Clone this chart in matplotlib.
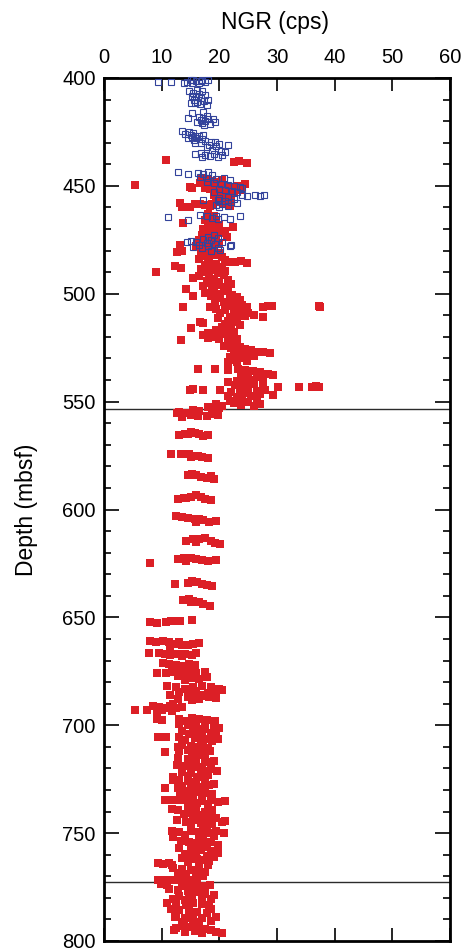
import matplotlib
matplotlib.use("Agg")
import matplotlib.pyplot as plt
from matplotlib.ticker import MultipleLocator

plt.rcParams['font.family'] = ['Liberation Sans', 'DejaVu Sans']

# ---------------- data (depth mbsf, NGR cps) ----------------
red_upper = [
    (437.8, 10.7), (438.8, 22.5), (438.6, 23.4), (439.2, 24.8), (449.6, 5.4),
    (446.5, 17.0), (447.2, 17.8), (447.8, 18.6), (448.0, 19.5), (447.5, 20.5),
    (448.8, 16.6), (449.5, 19.0), (449.8, 20.0), (450.2, 21.0), (450.5, 22.0), (450.0, 23.0),
    (450.5, 24.0), (449.2, 24.5), (450.4, 14.9), (450.9, 15.3), (451.0, 17.5), (451.5, 18.3),
    (452.0, 19.2), (452.5, 20.3), (452.8, 21.5), (453.3, 22.5), (452.0, 23.5),
    (454.0, 19.0), (454.5, 20.0), (455.0, 21.0), (455.5, 22.0), (456.0, 21.5), (456.8, 20.5),
    (457.5, 19.5), (458.2, 18.8), (458.6, 20.8), (459.3, 21.8), (458.0, 13.2), (459.6, 13.6),
    (460.0, 14.9), (458.2, 15.8), (458.5, 16.6), (458.8, 17.5), (459.5, 18.3),
    (463.0, 18.0), (464.0, 19.0), (465.0, 18.5), (466.0, 17.5), (466.5, 19.5), (467.3, 13.75),
    (467.5, 18.0), (468.0, 20.0), (469.0, 22.3), (469.3, 18.8), (470.0, 17.2), (470.5, 19.8),
    (471.0, 21.0), (471.5, 18.0), (472.0, 20.5), (472.5, 19.0), (473.5, 21.3), (473.0, 17.0),
    (474.0, 18.5), (475.0, 16.5), (475.5, 19.5), (476.0, 17.5), (476.5, 20.0), (477.4, 13.2),
    (477.0, 18.0), (478.0, 16.0), (478.5, 19.0), (479.0, 17.2), (480.0, 13.5), (480.8, 12.7),
    (480.5, 18.5), (481.0, 20.0), (481.5, 16.8), (482.0, 19.5), (482.5, 17.8), (483.0, 20.5),
    (483.5, 18.2), (484.0, 16.5), (484.5, 21.0), (485.0, 18.0), (485.2, 21.8), (485.5, 22.8),
    (485.0, 23.8), (485.6, 24.8), (486.0, 19.5), (486.5, 17.5), (487.0, 12.3), (488.0, 13.3),
    (487.5, 20.5), (488.0, 18.5), (488.5, 16.8), (489.0, 19.2), (489.8, 9.1), (489.5, 21.0),
    (490.0, 17.5), (490.5, 19.8), (491.0, 18.2), (491.5, 20.8), (492.0, 16.5), (492.5, 15.5),
    (493.0, 19.0), (493.5, 21.5), (494.0, 17.8), (494.5, 20.0), (495.0, 18.5), (495.5, 22.0),
    (496.0, 19.5), (496.5, 17.2), (497.0, 20.8), (497.5, 18.8), (498.0, 14.3), (498.5, 21.5),
    (499.0, 19.0), (499.5, 17.5), (500.0, 20.2), (500.5, 22.2), (501.0, 15.4), (501.2, 18.5),
    (501.6, 23.0), (502.0, 20.0), (502.5, 21.8), (503.0, 23.6), (503.5, 19.2), (504.0, 20.8),
    (504.5, 22.5), (505.0, 24.0), (505.5, 21.2), (506.0, 13.7), (506.0, 18.4), (505.8, 22.8),
    (506.2, 24.8), (506.0, 27.6), (505.8, 28.5), (505.5, 29.1), (505.5, 37.2), (506.3, 37.5),
]

red_mid = [
    (507.0, 19.5), (507.5, 21.0), (508.0, 22.5), (508.2, 24.0), (508.8, 25.0), (509.0, 20.2),
    (509.5, 23.2), (510.0, 26.0), (510.6, 27.6), (510.2, 24.5), (511.3, 19.8), (511.0, 21.8),
    (511.8, 23.0), (512.5, 21.5), (513.0, 16.6), (513.7, 17.2), (513.2, 22.8), (514.0, 21.0),
    (514.5, 23.5), (515.0, 22.0), (515.5, 20.5), (516.0, 15.0), (516.3, 21.3), (517.0, 19.5),
    (517.5, 22.5), (518.0, 18.0), (518.5, 20.5), (519.0, 17.2), (519.5, 21.8), (520.0, 19.0),
    (520.5, 18.0), (521.0, 20.0), (521.4, 13.3), (520.8, 23.0),
    (522.5, 21.5), (523.0, 22.8), (524.0, 20.8), (524.5, 23.5), (525.0, 22.0), (525.5, 24.5),
    (526.0, 25.5), (526.2, 23.2), (526.8, 26.5), (527.0, 27.5), (527.5, 28.8), (527.5, 24.0),
    (528.0, 22.5), (528.5, 25.0), (529.0, 26.0), (529.5, 21.8), (530.0, 23.5), (530.5, 22.5),
    (531.0, 24.8), (531.5, 21.5), (531.8, 23.0),
    (535.0, 16.3), (535.0, 19.3), (535.2, 21.5), (534.8, 23.2), (535.5, 24.5), (536.0, 25.8),
    (536.5, 27.0), (537.0, 28.5), (537.5, 29.3), (537.5, 23.8), (538.0, 25.0), (538.5, 26.5),
    (539.0, 24.0), (539.5, 27.5), (540.0, 25.5),
    (544.4, 14.9), (544.0, 15.4), (544.6, 17.1), (544.8, 20.2),
    (540.5, 23.0), (541.0, 21.5), (541.5, 24.5), (542.0, 26.0), (542.5, 22.8), (543.0, 27.5),
    (543.0, 30.2), (543.2, 33.8), (543.0, 36.0), (542.8, 36.8), (543.3, 37.2), (543.5, 25.0),
    (544.0, 23.5), (544.5, 28.0), (545.0, 26.5), (545.5, 22.0), (546.0, 24.5), (546.5, 27.0),
    (547.0, 29.3), (547.2, 21.5), (547.5, 25.5), (548.0, 23.0), (548.5, 26.5), (549.0, 24.0),
    (549.5, 21.8), (550.0, 25.0), (550.5, 22.5), (551.0, 27.0), (551.0, 19.5), (551.5, 23.8),
    (552.0, 20.5), (552.2, 26.0), (552.5, 18.0), (553.0, 19.2), (552.8, 20.0),
    (554.0, 15.5), (554.5, 16.5), (555.0, 13.0), (555.5, 12.6), (555.5, 14.3), (556.0, 15.0),
    (556.5, 17.8), (555.8, 18.8), (556.0, 19.8), (556.5, 16.3), (557.0, 13.5),
    (565.5, 13.0), (564.8, 14.0), (564.0, 15.0), (564.5, 15.8), (565.0, 16.5), (566.0, 17.2),
    (565.5, 18.0), (565.2, 14.5),
    (574.5, 11.6), (574.5, 13.3), (574.5, 14.8), (575.0, 15.5), (575.2, 16.3), (575.8, 17.0),
    (576.0, 18.0), (575.5, 15.0),
    (584.0, 14.5), (583.5, 15.3), (584.2, 16.0), (585.0, 16.8), (585.5, 17.8), (585.8, 19.0),
    (584.5, 18.5),
    (595.0, 12.8), (594.5, 13.8), (594.0, 15.0), (593.5, 16.0), (594.2, 16.8), (595.0, 17.5),
    (595.5, 18.5), (594.8, 14.2),
    (603.0, 12.5), (603.5, 13.5), (604.0, 14.5), (604.5, 15.8), (604.2, 16.5), (605.0, 17.2),
    (605.8, 18.2), (605.5, 19.5), (606.0, 16.0),
    (614.5, 14.2), (613.5, 15.5), (613.8, 16.5), (613.2, 17.5), (614.8, 18.5), (615.5, 19.2),
    (616.0, 20.2), (615.0, 16.0),
    (624.8, 8.0), (623.0, 12.8), (622.5, 13.8), (622.3, 15.0), (623.0, 16.0), (623.5, 17.0),
    (624.0, 18.0), (624.0, 14.3), (623.5, 19.5),
    (634.5, 12.3), (634.0, 14.5), (633.0, 15.3), (633.5, 16.2), (634.5, 17.0), (635.0, 17.8),
    (635.5, 18.7), (633.8, 15.8),
    (642.0, 13.7), (641.5, 14.8), (642.5, 15.5), (643.0, 16.5), (643.8, 17.2), (644.5, 18.4),
    (643.0, 15.0),
    (652.0, 8.0), (652.5, 9.2), (652.2, 10.7), (651.8, 11.6), (651.5, 12.4), (651.6, 13.2),
    (651.2, 15.2),
]

red_lower = [
    (661.0, 8.0), (661.2, 9.0), (661.0, 10.2), (661.5, 11.2), (662.5, 12.2), (662.8, 13.5),
    (663.0, 14.5), (662.5, 15.5), (662.0, 16.5), (663.5, 11.5), (661.5, 13.0),
    (666.5, 7.8), (666.5, 9.5), (667.0, 10.5), (667.5, 11.5), (666.8, 12.8), (667.0, 14.0),
    (667.5, 15.2), (666.5, 16.0), (668.0, 13.5),
    (671.0, 10.2), (671.5, 11.2), (672.0, 12.5), (672.5, 13.8), (671.5, 14.8), (672.0, 15.8),
    (673.0, 11.8), (673.5, 14.5),
    (675.8, 9.2), (675.8, 10.7), (675.5, 12.2), (676.0, 13.5), (676.5, 14.8), (676.0, 16.0),
    (675.5, 17.5), (678.0, 15.2), (678.5, 16.5), (677.8, 17.8), (679.0, 14.0), (677.0, 12.8),
    (682.0, 11.0), (682.5, 12.5), (683.0, 14.0), (682.5, 15.5), (682.0, 17.0), (682.5, 18.5),
    (683.0, 20.0), (683.5, 20.5), (684.0, 16.0), (684.5, 13.0), (685.0, 18.0), (685.5, 15.0),
    (686.0, 11.5), (686.5, 17.5), (687.0, 14.5), (687.5, 19.5), (688.0, 12.8), (688.0, 16.5),
    (684.8, 19.0), (686.0, 16.8), (687.0, 18.2), (688.5, 15.2),
    (692.8, 5.4), (692.8, 7.5), (691.0, 8.5), (691.5, 9.5), (692.0, 10.5), (691.0, 11.5),
    (692.0, 12.5), (691.5, 13.5), (693.0, 10.0), (693.5, 11.8), (694.0, 9.2), (690.0, 12.0),
    (697.0, 9.2), (697.5, 10.0), (697.0, 13.0), (696.5, 15.2), (697.0, 16.5), (697.5, 17.8),
    (698.0, 19.3), (698.0, 14.0),
    (699.5, 13.0), (700.0, 14.5), (700.5, 16.0), (700.0, 17.5), (701.0, 19.0), (701.5, 20.0),
    (702.0, 15.5), (702.5, 13.5), (703.0, 17.0), (703.5, 18.5), (704.0, 14.8), (704.5, 16.5),
    (705.0, 19.5), (705.4, 9.4), (705.4, 10.8), (705.5, 13.0), (706.0, 15.8), (706.5, 17.8),
    (707.0, 14.0), (707.5, 18.8), (708.0, 16.8), (701.8, 17.2), (703.8, 16.0), (706.2, 19.8),
    (709.0, 13.5), (709.5, 15.0), (710.0, 16.5), (710.5, 18.0), (710.0, 12.8), (709.2, 17.2),
    (712.2, 10.6), (712.0, 13.0), (711.5, 14.5), (712.5, 15.8), (712.0, 17.0), (711.8, 18.4),
    (715.0, 12.8), (715.5, 14.5), (716.0, 16.0), (715.5, 17.5), (716.5, 19.0), (717.0, 15.0),
    (714.0, 16.8), (713.5, 15.2), (717.2, 17.8),
    (718.5, 12.6), (719.0, 14.0), (719.5, 15.5), (720.0, 17.0), (720.5, 18.5), (721.0, 19.6),
    (721.5, 13.5), (722.0, 15.0), (722.5, 16.8), (723.0, 18.0), (723.5, 14.5), (724.0, 12.0),
    (719.2, 16.5), (721.0, 17.8), (724.0, 16.2),
    (725.5, 11.9), (725.5, 13.0), (726.0, 14.5), (726.5, 16.0), (726.0, 17.5), (727.0, 19.0),
    (727.5, 15.0), (728.0, 13.5), (728.5, 17.0), (729.2, 10.6), (729.0, 12.8), (729.5, 15.8),
    (727.8, 18.2), (729.0, 16.8),
    (730.5, 14.5), (731.0, 16.0), (731.5, 17.5), (732.0, 18.8), (732.5, 15.2), (733.0, 17.0),
    (731.0, 13.2), (732.8, 14.0),
    (734.5, 10.6), (734.5, 11.8), (734.5, 12.8), (734.5, 14.0), (734.0, 15.5), (735.0, 17.0),
    (734.5, 18.5), (735.5, 19.8), (735.0, 21.0), (736.0, 16.2), (736.5, 18.0), (737.0, 14.8),
    (739.0, 11.8), (739.5, 12.8), (738.5, 14.5), (739.0, 16.0), (740.0, 17.5), (739.5, 18.8),
    (740.5, 15.0), (741.5, 16.5), (742.0, 18.0), (741.0, 13.8),
    (744.0, 12.6), (745.0, 14.3), (744.0, 15.5), (745.5, 16.8), (744.5, 18.0), (746.0, 18.7),
    (745.0, 20.5), (744.5, 21.0), (746.5, 15.0), (747.0, 17.2), (743.0, 17.0), (743.2, 19.5),
    (749.0, 11.8), (749.5, 13.0), (749.0, 15.0), (749.5, 16.5), (750.0, 18.0), (749.0, 19.5),
    (750.0, 20.8), (751.0, 14.0), (751.5, 17.2), (752.0, 12.0), (751.5, 19.0), (748.2, 17.8),
    (753.5, 13.3), (754.0, 14.8), (754.5, 16.0), (755.0, 17.2), (754.0, 18.5), (755.5, 19.8),
    (756.0, 15.5), (756.5, 17.8), (753.0, 16.5),
    (757.0, 13.0), (757.5, 15.0), (758.0, 16.8), (758.5, 18.5), (759.0, 19.8), (759.5, 14.0),
    (760.0, 16.0), (760.5, 17.8), (761.0, 19.0), (761.5, 13.5), (762.0, 15.2), (762.5, 17.0),
    (763.0, 18.2), (763.5, 14.5), (758.2, 15.5), (760.2, 18.8), (762.2, 16.2),
    (764.0, 9.3), (764.2, 10.2), (764.0, 11.2), (765.0, 11.8), (765.0, 16.5), (764.8, 18.0),
    (766.0, 12.0), (766.5, 13.5), (767.0, 15.0), (767.5, 16.5), (768.0, 17.5), (768.5, 12.8),
    (769.0, 14.2), (769.5, 16.0), (770.0, 13.0), (769.8, 17.2),
    (771.5, 9.3), (771.5, 10.3), (771.8, 11.2), (771.5, 12.2), (771.0, 13.2), (771.5, 15.0),
    (771.2, 16.2), (772.0, 14.0),
    (773.5, 9.8), (774.0, 11.0), (774.5, 13.5), (773.5, 14.8), (774.0, 16.2), (774.5, 17.5),
    (774.0, 18.4),
    (776.0, 11.2), (776.5, 12.8), (777.0, 14.5), (777.5, 16.0), (778.0, 17.5), (778.5, 19.0),
    (779.0, 13.0), (779.5, 15.2), (780.0, 17.0), (780.5, 12.0), (780.8, 14.0), (776.2, 17.2),
    (778.2, 14.8), (780.5, 18.5),
    (782.5, 11.0), (783.0, 12.5), (783.5, 14.2), (782.5, 15.5), (783.0, 17.0), (783.5, 18.2),
    (785.0, 11.6), (785.5, 13.0), (786.0, 14.8), (786.5, 16.2), (787.0, 17.8), (787.5, 12.5),
    (787.0, 15.5), (785.2, 18.5),
    (789.0, 12.3), (789.5, 14.0), (790.0, 15.5), (789.5, 17.0), (790.5, 18.5), (789.0, 19.4),
    (791.0, 13.5), (791.2, 16.5),
    (794.0, 12.5), (793.0, 13.8), (793.5, 15.0), (794.0, 16.5), (794.5, 17.5), (795.0, 18.5),
    (796.0, 19.5), (796.5, 20.4), (796.0, 14.0), (795.5, 15.8), (796.5, 17.0), (795.0, 12.2),
]

blue_points = [
    (401.7, 9.4), (401.7, 11.7), (402.5, 13.8), (402.0, 14.4), (401.0, 15.0), (400.8, 15.5),
    (401.5, 16.0), (402.2, 16.5), (401.0, 17.0), (401.8, 17.5), (400.8, 18.0), (402.5, 15.3),
    (401.2, 16.8),
    (406.0, 14.8), (405.5, 16.2), (406.0, 17.0), (407.0, 15.5), (407.5, 16.5), (408.0, 17.5),
    (408.5, 15.2), (409.0, 16.0), (409.5, 16.8), (410.0, 15.6), (410.5, 17.3), (411.0, 16.2),
    (411.5, 15.0), (412.0, 16.6), (412.5, 17.8), (411.8, 15.8), (410.2, 18.0),
    (416.0, 15.2), (415.8, 17.2), (418.5, 14.6), (418.0, 16.4), (418.5, 17.2), (419.0, 18.0),
    (418.8, 18.9), (419.5, 16.8), (420.0, 17.6), (420.5, 16.2), (421.0, 17.0), (421.5, 18.4),
    (422.0, 17.4), (417.5, 17.8), (420.2, 19.2),
    (424.5, 13.6), (425.0, 14.8), (425.5, 15.5), (426.0, 14.0), (426.5, 15.0), (426.8, 15.8),
    (427.0, 16.5), (427.5, 15.3), (428.0, 16.0), (428.5, 17.0), (427.8, 14.5), (426.2, 17.2),
    (428.8, 15.6), (429.0, 17.5), (429.5, 18.5), (430.0, 16.8), (429.8, 19.2), (430.5, 20.0),
    (431.0, 18.2), (431.0, 21.5), (431.5, 19.5), (432.0, 17.8), (430.2, 15.8),
    (435.0, 15.8), (434.8, 16.8), (435.5, 17.5), (436.0, 18.3), (435.2, 19.0), (436.5, 19.8),
    (435.8, 20.5), (434.5, 21.0), (436.8, 17.0), (433.5, 18.8), (433.8, 20.3),
    (443.8, 12.8), (444.5, 14.6), (444.0, 16.3), (444.5, 17.2), (443.5, 18.0), (445.0, 18.7),
    (446.0, 16.6), (446.5, 18.0), (447.0, 19.5), (446.5, 20.8), (447.5, 21.8), (448.0, 17.8),
    (448.5, 19.0), (449.0, 20.3), (449.5, 21.5), (450.0, 22.5), (450.5, 23.5), (451.0, 24.0),
    (451.5, 20.0), (452.0, 21.0), (452.5, 22.2), (453.0, 19.0), (453.0, 23.0), (454.2, 26.2),
    (454.5, 27.0), (454.2, 27.8), (454.0, 24.0), (454.5, 24.8), (455.0, 21.5), (455.5, 20.0),
    (456.0, 22.5), (456.5, 17.2), (456.5, 19.8), (457.0, 21.0), (457.5, 22.0), (458.0, 23.0),
    (458.5, 20.5), (459.0, 19.5), (459.5, 21.5), (460.0, 20.0),
    (464.3, 11.1), (466.0, 14.6), (463.5, 16.6), (464.0, 17.8), (465.0, 18.8), (463.8, 19.5),
    (464.5, 20.8), (465.5, 21.8), (464.0, 23.6), (465.5, 19.8),
    (473.0, 19.0), (473.5, 18.0), (474.0, 19.8), (474.5, 17.2), (475.0, 18.5), (475.5, 15.0),
    (475.8, 16.0), (476.0, 20.5), (476.5, 17.8), (477.0, 19.2), (477.5, 16.5), (477.8, 21.8),
    (478.0, 18.0), (478.5, 15.5), (478.8, 19.8), (479.0, 17.0), (479.5, 20.2), (480.0, 18.5),
    (476.2, 14.4), (477.2, 22.0),
]

boundary_depths = [553.5, 772.5]
x_ticks = [0, 10, 20, 30, 40, 50, 60]
y_ticks = [400, 450, 500, 550, 600, 650, 700, 750, 800]

red = red_upper + red_mid + red_lower
red_depth = [p[0] for p in red]
red_ngr = [p[1] for p in red]
blue_depth = [p[0] for p in blue_points]
blue_ngr = [p[1] for p in blue_points]

# ---------------- figure ----------------
W, H = 465, 951
fig = plt.figure(figsize=(W / 100, H / 100), dpi=100)
ax = fig.add_axes([104 / W, 1 - 941 / H, 346 / W, 863 / H])

ax.plot(red_ngr, red_depth, linestyle='none', marker='s', markersize=5.2,
        markerfacecolor='#dc1f26', markeredgewidth=0, zorder=2, clip_on=False)
ax.plot(blue_ngr, blue_depth, linestyle='none', marker='s', markersize=4.3,
        markerfacecolor='none', markeredgecolor='#33439b', markeredgewidth=0.8,
        zorder=3, clip_on=False)

for d in boundary_depths:
    ax.axhline(d, color='#2b2b2b', linewidth=1.0, zorder=1)

ax.set_xlim(0, 60)
ax.set_ylim(800, 400)
ax.set_xticks(x_ticks)
ax.set_yticks(y_ticks)
ax.yaxis.set_minor_locator(MultipleLocator(10))

ax.xaxis.tick_top()
ax.tick_params(axis='x', which='major', direction='in', length=9.5, width=1.2,
               top=True, bottom=True, labeltop=True, labelbottom=False,
               labelsize=14.5, pad=8)
ax.tick_params(axis='y', which='major', direction='in', length=10.5, width=1.2,
               left=True, right=True, labelsize=14.5, pad=6)
ax.tick_params(axis='y', which='minor', direction='in', length=5, width=1.2,
               left=True, right=True)
for s in ax.spines.values():
    s.set_linewidth(2.0)

fig.text(275 / W, 1 - 22 / H, 'NGR (cps)', ha='center', va='center', fontsize=16.5)
fig.text(27 / W, 1 - 510 / H, 'Depth (mbsf)', ha='center', va='center',
         rotation=90, fontsize=16.5)

fig.savefig('out.png', dpi=100)
